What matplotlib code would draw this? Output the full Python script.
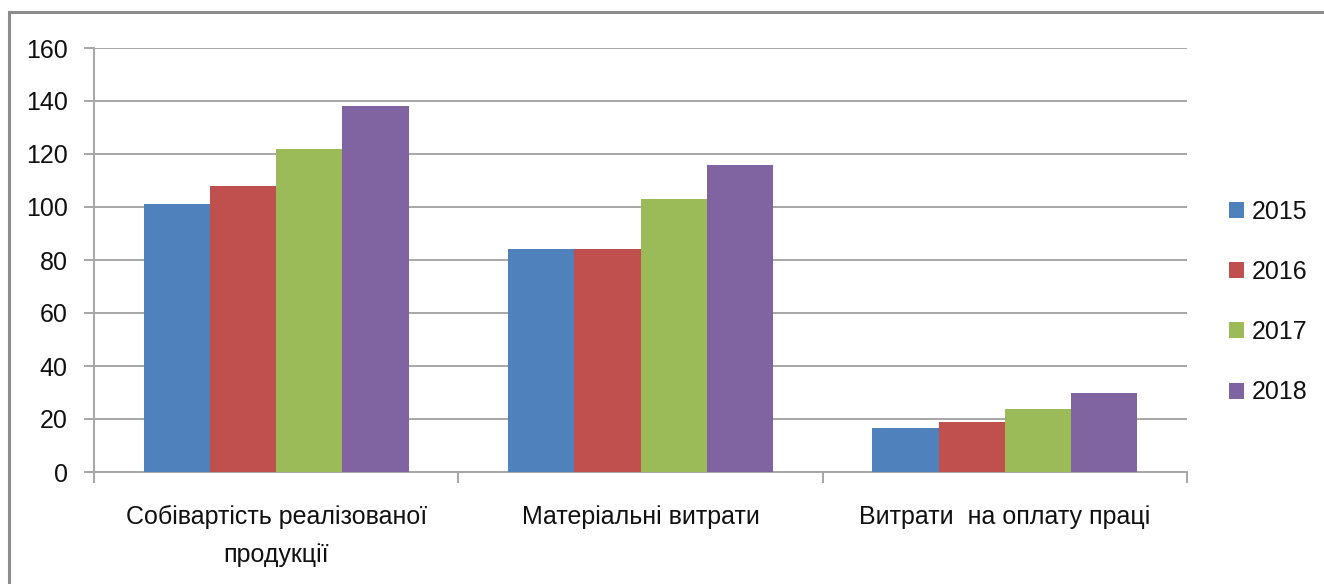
import matplotlib
matplotlib.use("Agg")
import matplotlib.pyplot as plt
from matplotlib.patches import Rectangle
import numpy as np

categories = ["Собівартість реалізованої\nпродукції", "Матеріальні витрати", "Витрати  на оплату праці"]
years = ["2015", "2016", "2017", "2018"]
values_2015 = [101, 84, 16.6]
values_2016 = [108, 84, 19]
values_2017 = [122, 103, 23.6]
values_2018 = [138, 116, 30]
series = [values_2015, values_2016, values_2017, values_2018]
colors = ["#4F81BD", "#C0504D", "#9BBB59", "#8064A2"]
y_ticks = [0, 20, 40, 60, 80, 100, 120, 140, 160]

plt.rcParams['font.family'] = ['Liberation Sans', 'DejaVu Sans']
FS = 18

W, H = 1324, 584
fig = plt.figure(figsize=(W / 100, H / 100), dpi=100)
fig.patch.set_facecolor("white")

# outer chart frame (top and left edges visible)
fig.add_artist(Rectangle((9 / W, -0.5), 2.0, (H - 12) / H + 0.5, transform=fig.transFigure,
                         fill=False, edgecolor="#8c8c8c", linewidth=2.2, zorder=0))

left, right, top, bottom = 94, 1187, 48, 472
ax = fig.add_axes([left / W, 1 - bottom / H, (right - left) / W, (bottom - top) / H])

n = len(categories)
bw = 0.182
x = np.arange(n)
handles = []
for i, (vals, c) in enumerate(zip(series, colors)):
    h = ax.bar(x + (i - 1.5) * bw, vals, width=bw, color=c, zorder=3, linewidth=0)
    handles.append(h)

ax.set_xlim(-0.5, n - 0.5)
ax.set_ylim(0, 160)
ax.set_yticks(y_ticks)
ax.set_yticklabels([str(t) for t in y_ticks], fontsize=FS, color="#111111")
ax.yaxis.grid(True, color="#a6a6a6", linewidth=1.4, zorder=0)
ax.set_axisbelow(True)

for s in ["top", "right"]:
    ax.spines[s].set_visible(False)
ax.spines["left"].set_color("#a6a6a6")
ax.spines["left"].set_linewidth(1.4)
ax.spines["bottom"].set_color("#a6a6a6")
ax.spines["bottom"].set_linewidth(1.4)
ax.tick_params(axis="y", length=7, width=1.4, color="#a6a6a6", pad=12)

# category boundaries as ticks, labels centred under groups
ax.set_xticks(np.arange(n + 1) - 0.5)
ax.set_xticklabels([""] * (n + 1))
ax.tick_params(axis="x", length=8, width=1.4, color="#a6a6a6", direction="out")
for xi, lab in zip(x, categories):
    ax.text(xi, -12.5, lab, ha="center", va="top", fontsize=FS, color="#111111",
            linespacing=1.75)

leg = fig.legend(handles, years, loc="center left", bbox_to_anchor=(1229 / W, 1 - 302 / H),
                 frameon=False, fontsize=FS, handlelength=0.6, handleheight=0.6,
                 handletextpad=0.3, labelspacing=1.45, borderaxespad=0, borderpad=0)
for t in leg.get_texts():
    t.set_color("#111111")

fig.savefig("out.png", dpi=100, facecolor="white")
